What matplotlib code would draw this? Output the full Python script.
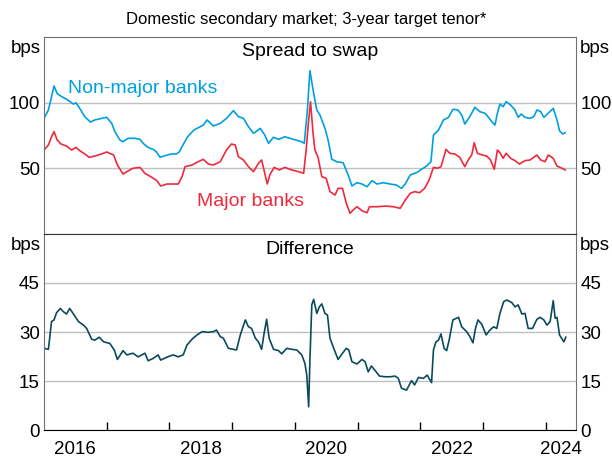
import matplotlib
matplotlib.use("Agg")
import matplotlib.pyplot as plt
import matplotlib.transforms as mtransforms

plt.rcParams['font.family'] = ['Liberation Sans', 'DejaVu Sans']

# ---- data (bps); dates as decimal years ----
nonmajor_t = [2016.00, 2016.07, 2016.12, 2016.16, 2016.21, 2016.27, 2016.36, 2016.47, 2016.51,
              2016.57, 2016.65, 2016.74, 2016.81, 2016.92, 2017.00, 2017.08, 2017.13, 2017.21,
              2017.26, 2017.34, 2017.45, 2017.53, 2017.58, 2017.66, 2017.74, 2017.79, 2017.85,
              2017.93, 2018.03, 2018.11, 2018.16, 2018.20, 2018.29, 2018.39, 2018.54, 2018.60,
              2018.70, 2018.81, 2018.91, 2019.02, 2019.10, 2019.18, 2019.26, 2019.34, 2019.45,
              2019.52, 2019.58, 2019.66, 2019.74, 2019.84, 2019.98, 2020.11, 2020.15, 2020.20,
              2020.24, 2020.30, 2020.35, 2020.40, 2020.48, 2020.53, 2020.59, 2020.67, 2020.77,
              2020.85, 2020.91, 2020.99, 2021.07, 2021.15, 2021.23, 2021.31, 2021.41, 2021.52,
              2021.62, 2021.70, 2021.76, 2021.84, 2021.95, 2022.02, 2022.10, 2022.17, 2022.21,
              2022.29, 2022.37, 2022.45, 2022.52, 2022.60, 2022.66, 2022.71, 2022.79, 2022.87,
              2022.95, 2023.03, 2023.08, 2023.14, 2023.19, 2023.23, 2023.27, 2023.32, 2023.37,
              2023.44, 2023.51, 2023.56, 2023.61, 2023.67, 2023.75, 2023.81, 2023.86, 2023.92,
              2023.97, 2024.04, 2024.12, 2024.18, 2024.22, 2024.27, 2024.31]
nonmajor = [88, 94.5, 104.6, 112.8, 107, 105, 102.6, 99, 100,
            95.7, 89.4, 85.3, 86.9, 88.1, 88.9, 84.3, 78, 71.6,
            70.3, 72.9, 72.9, 72.1, 69.1, 66, 64.5, 62.7, 58.4,
            59.7, 61, 61, 62.7, 66.5, 74.1, 79.2, 83, 86.9,
            82.3, 84.3, 88.1, 94, 89.4, 88.1, 81.8, 76.7, 80.5,
            75.4, 69.1, 73.7, 72.1, 74.1, 72.1, 70.3, 69.1, 94.5,
            124.4, 107.2, 94.5, 90.7, 80.5, 71.6, 56.9, 55.1, 54.3,
            45, 36.6, 39.1, 38.1, 36, 40.6, 38.1, 39.1, 38.1,
            37.3, 34.8, 38.1, 45, 47, 49.3, 51.8, 55.1, 75.4,
            79.2, 86.9, 88.9, 95, 94.5, 90.7, 83.8, 89.4, 96.5,
            93.2, 92, 89.4, 85.6, 83, 92, 99, 97, 100.8,
            98.3, 94.5, 88.9, 91.4, 88.9, 88.1, 89.4, 94.5, 93.2,
            88.9, 92, 95.7, 86.9, 78.7, 76.2, 77.2]

major_t = [2016.00, 2016.07, 2016.12, 2016.16, 2016.21, 2016.27, 2016.36, 2016.44, 2016.51,
           2016.57, 2016.65, 2016.72, 2016.81, 2016.92, 2017.00, 2017.11, 2017.17, 2017.26,
           2017.32, 2017.42, 2017.53, 2017.61, 2017.72, 2017.80, 2017.86, 2017.96, 2018.06,
           2018.14, 2018.20, 2018.25, 2018.36, 2018.46, 2018.54, 2018.62, 2018.70, 2018.81,
           2018.91, 2018.99, 2019.05, 2019.10, 2019.18, 2019.26, 2019.34, 2019.42, 2019.47,
           2019.52, 2019.56, 2019.60, 2019.67, 2019.75, 2019.84, 2019.95, 2020.06, 2020.14,
           2020.18, 2020.22, 2020.25, 2020.29, 2020.32, 2020.37, 2020.43, 2020.50, 2020.56,
           2020.64, 2020.69, 2020.76, 2020.82, 2020.88, 2020.93, 2020.99, 2021.07, 2021.15,
           2021.19, 2021.31, 2021.44, 2021.57, 2021.68, 2021.76, 2021.84, 2021.91, 2021.99,
           2022.07, 2022.14, 2022.21, 2022.27, 2022.33, 2022.37, 2022.41, 2022.47, 2022.55,
           2022.63, 2022.71, 2022.77, 2022.82, 2022.86, 2022.91, 2022.99, 2023.06, 2023.12,
           2023.18, 2023.23, 2023.27, 2023.32, 2023.37, 2023.44, 2023.51, 2023.58, 2023.67,
           2023.75, 2023.86, 2023.92, 2023.99, 2024.04, 2024.12, 2024.18, 2024.26, 2024.31]
major = [64, 67.8, 74.1, 78, 71.6, 68.6, 67, 64, 66,
         63.5, 61, 58.4, 59.4, 61, 62.5, 60.2, 52.6, 45.7,
         47.5, 50.1, 50.8, 46.2, 43.2, 40.6, 36.6, 38.1, 38.1,
         38.1, 43.7, 51.3, 52.6, 55.1, 56.9, 53.3, 52.6, 55.1,
         64, 68.6, 67.8, 58.9, 56.4, 51.3, 47.5, 53.9, 56.4,
         46.2, 38.1, 45, 50.8, 48.8, 50.8, 48.8, 47.5, 46.2,
         64, 86.9, 100.8, 76.7, 64, 58.4, 43.7, 42.4, 32.3,
         29.7, 34.8, 34.8, 23.4, 15.8, 18.3, 20.8, 17.8, 16.2,
         20.8, 20.8, 21.3, 20.8, 19.6, 25.9, 31, 32.3, 31.5,
         34.8, 41.1, 50.8, 50.1, 51.3, 57.7, 64.5, 61.5, 61,
         58.4, 51.3, 56.9, 60.2, 69.6, 61.5, 60.2, 59.4, 56.4,
         49.3, 64, 62, 57.7, 61.5, 57.7, 55.9, 53.3, 55.9,
         56.4, 60.2, 56.4, 55.1, 60.2, 57.7, 51.8, 50.1, 48.8]

diff_t = [2016.00, 2016.07, 2016.12, 2016.16, 2016.20, 2016.26, 2016.31, 2016.36, 2016.41,
          2016.47, 2016.55, 2016.63, 2016.68, 2016.76, 2016.81, 2016.88, 2016.95, 2017.05,
          2017.12, 2017.17, 2017.26, 2017.32, 2017.42, 2017.50, 2017.61, 2017.66, 2017.74,
          2017.82, 2017.86, 2017.96, 2018.06, 2018.14, 2018.22, 2018.28, 2018.36, 2018.44,
          2018.52, 2018.62, 2018.70, 2018.75, 2018.81, 2018.86, 2018.94, 2019.02, 2019.07,
          2019.13, 2019.21, 2019.26, 2019.31, 2019.37, 2019.42, 2019.47, 2019.51, 2019.55,
          2019.59, 2019.66, 2019.74, 2019.79, 2019.87, 2019.95, 2020.03, 2020.11, 2020.16,
          2020.19, 2020.22, 2020.24, 2020.27, 2020.30, 2020.35, 2020.39, 2020.43, 2020.48,
          2020.52, 2020.56, 2020.64, 2020.69, 2020.74, 2020.82, 2020.86, 2020.91, 2020.99,
          2021.07, 2021.12, 2021.17, 2021.22, 2021.28, 2021.35, 2021.44, 2021.52, 2021.60,
          2021.65, 2021.70, 2021.78, 2021.86, 2021.91, 2021.97, 2022.05, 2022.11, 2022.18,
          2022.21, 2022.25, 2022.29, 2022.33, 2022.38, 2022.42, 2022.46, 2022.52, 2022.61,
          2022.66, 2022.74, 2022.79, 2022.84, 2022.88, 2022.92, 2022.98, 2023.05, 2023.11,
          2023.17, 2023.22, 2023.27, 2023.33, 2023.38, 2023.46, 2023.51, 2023.56, 2023.62,
          2023.67, 2023.72, 2023.79, 2023.86, 2023.91, 2023.97, 2024.02, 2024.07, 2024.12,
          2024.15, 2024.18, 2024.22, 2024.29, 2024.32]
diff = [25, 24.7, 33.2, 33.7, 35.9, 37.2, 36.2, 35.5, 37.2,
        35.5, 33.2, 32.1, 31.1, 27.8, 27.5, 28.4, 27, 26.5,
        24.5, 21.6, 24.3, 23, 23.5, 22.4, 23.5, 21.2, 21.9,
        23, 21.4, 22.3, 23, 22.4, 23, 26, 27.8, 29.1,
        30.1, 29.9, 30.1, 30.6, 28.6, 28.1, 25, 24.7, 24.5,
        29.1, 33.7, 31.6, 31.1, 28.1, 27, 24.7, 29.6, 33.9,
        28.1, 24.7, 24.3, 23.3, 25, 24.7, 24.5, 23, 20.4,
        16.8, 7.1, 21.4, 38.3, 40, 35.7, 37.7, 38.6, 35.7,
        35.2, 28.1, 24, 21.6, 23, 25, 24.5, 20.9, 20.2,
        21.6, 20.9, 17.8, 19.6, 18.2, 16.5, 16.3, 16.3, 16.5,
        15.8, 12.8, 12.2, 15.1, 13.8, 16.1, 15.8, 16.8, 14.5,
        24.5, 27, 27.5, 29.4, 25, 24.3, 27.5, 33.7, 34.5,
        31.6, 30.1, 28.6, 26.7, 31.1, 33.7, 32.4, 29.1, 30.6,
        31.6, 31.1, 35.7, 39.3, 39.8, 39, 37.7, 38.3, 35.5,
        35.7, 31.1, 31.1, 33.9, 34.5, 33.7, 32.1, 33.2, 39.6,
        34.2, 34.5, 29.1, 27, 28.4]

year_ticks = [2017, 2018, 2019, 2020, 2021, 2022, 2023, 2024]
year_label_pos = [2016.5, 2018.5, 2020.5, 2022.5, 2024.25]
year_labels = ['2016', '2018', '2020', '2022', '2024']

BLUE = '#00a0df'
RED = '#ee2a3d'
TEAL = '#0b4a5c'
GRID = '#c0c0c0'
FRAME = '#707070'
FS = 14
TFS = 13.5

fig = plt.figure(figsize=(6.12, 4.58), dpi=100)
ax1 = fig.add_axes([0.0719, 0.489, 0.870, 0.430])
ax2 = fig.add_axes([0.0719, 0.0611, 0.870, 0.428])

fig.text(0.5, 0.958, 'Domestic secondary market; 3-year target tenor*',
         ha='center', va='center', fontsize=12)

# top panel
ax1.plot(nonmajor_t, nonmajor, color=BLUE, lw=1.2)
ax1.plot(major_t, major, color=RED, lw=1.2)
ax1.set_ylim(0, 150)
ax1.set_yticks([50, 100])

# bottom panel
ax2.plot(diff_t, diff, color=TEAL, lw=1.2)
ax2.set_ylim(0, 60)
ax2.set_yticks([0, 15, 30, 45])

for ax in (ax1, ax2):
    ax.set_xlim(2016.0, 2024.49)
    ax.grid(axis='y', color=GRID, lw=1)
    ax.set_axisbelow(True)
    ax.tick_params(axis='y', length=0, labelsize=TFS, pad=3,
                   left=True, right=True, labelleft=True, labelright=True)
    for s in ('left', 'right', 'top'):
        ax.spines[s].set_color(FRAME)
    trans = mtransforms.blended_transform_factory(ax.transAxes, ax.transAxes)
    ax.text(-0.006, 0.985, 'bps', ha='right', va='top', fontsize=TFS, transform=trans)
    ax.text(1.006, 0.985, 'bps', ha='left', va='top', fontsize=TFS, transform=trans)

ax1.spines['bottom'].set_color('#333333')
ax2.spines['top'].set_color('#333333')
ax1.tick_params(axis='x', bottom=False, labelbottom=False)

ax2.set_xticks(year_ticks)
ax2.set_xticklabels([])
ax2.set_xticks(year_label_pos, minor=True)
ax2.set_xticklabels(year_labels, minor=True)
ax2.tick_params(axis='x', which='major', direction='in', length=6, width=1, color='black')
ax2.tick_params(axis='x', which='minor', length=0, labelsize=TFS, pad=8)
ax2.spines['bottom'].set_color('black')

ax1.text(0.5, 0.925, 'Spread to swap', transform=ax1.transAxes,
         ha='center', va='center', fontsize=FS)
ax2.text(0.5, 0.923, 'Difference', transform=ax2.transAxes,
         ha='center', va='center', fontsize=FS)
ax1.text(2017.58, 111, 'Non-major banks', color=BLUE, ha='center', va='center', fontsize=FS)
ax1.text(2019.29, 24.6, 'Major banks', color=RED, ha='center', va='center', fontsize=FS)

fig.savefig('out.png', dpi=100)
